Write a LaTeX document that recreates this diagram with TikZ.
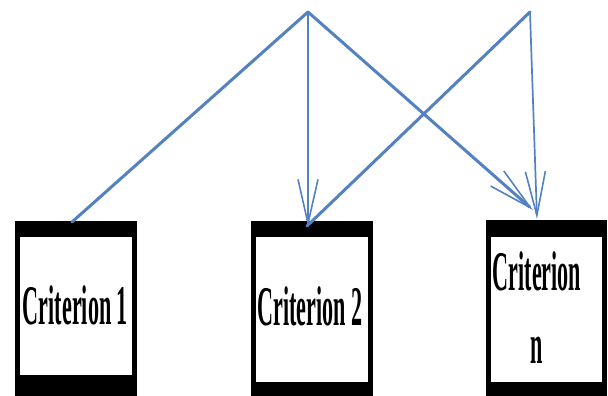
\documentclass[tikz,border=0pt]{standalone}
\usepackage{fontspec}
\setmainfont{Liberation Serif}
\usetikzlibrary{arrows.meta}
\definecolor{linkblue}{RGB}{84,130,192}
\tikzset{
  outerbox/.style={fill=black, draw=none, inner sep=0pt},
  innerbox/.style={fill=white, draw=none, inner sep=0pt},
  crit/.style={anchor=base, inner sep=0pt, font=\fontsize{56}{60}\selectfont\bfseries},
  thickline/.style={draw=linkblue, line width=3pt, line cap=round},
  thinline/.style={draw=linkblue, line width=1.7pt},
  barb/.style={-{Straight Barb[length=44pt,width=20pt,line width=1.6pt]}},
}
\newcommand{\cond}[1]{\scalebox{0.395}[1]{#1}}
\begin{document}
\begin{tikzpicture}[x=1pt,y=-1pt]
\useasboundingbox (0,0) rectangle (608,396);
\fill[white] (0,0) rectangle (608,396);
% boxes
\node[outerbox, minimum width=122pt, minimum height=177pt, anchor=north west] (b1) at (15,221) {};
\node[innerbox, minimum width=112pt, minimum height=138pt, anchor=north west] (i1) at (20,237) {};
\node[outerbox, minimum width=122pt, minimum height=177pt, anchor=north west] (b2) at (251,221) {};
\node[innerbox, minimum width=112pt, minimum height=145pt, anchor=north west] (i2) at (256,237) {};
\node[outerbox, minimum width=121pt, minimum height=178pt, anchor=north west] (b3) at (486,220) {};
\node[innerbox, minimum width=111pt, minimum height=145pt, anchor=north west] (i3) at (491,237) {};
% texts
\node[crit] (t1) at (75.5,324) {\cond{Criterion 1}};
\node[crit] (t2) at (310,325) {\cond{Criterion 2}};
\node[crit] (t3a) at (537,290) {\cond{Criterion}};
\node[crit] (t3b) at (537,363) {\cond{n}};
% connector points
\coordinate (A) at (308,12);
\coordinate (B) at (530,12);
\coordinate (e1) at (72,222);
\coordinate (e2) at (308,227);
\coordinate (e2b) at (307,226);
\coordinate (e3) at (533,210);
\coordinate (e3b) at (537,219);
% connectors
\draw[thickline] (A) -- (e1);
\draw[thinline, barb] (A) -- (e2);
\draw[thickline, barb] (A) -- (e3);
\draw[thickline] (B) -- (e2b);
\draw[thinline, barb] (B) -- (e3b);
\end{tikzpicture}
\end{document}
